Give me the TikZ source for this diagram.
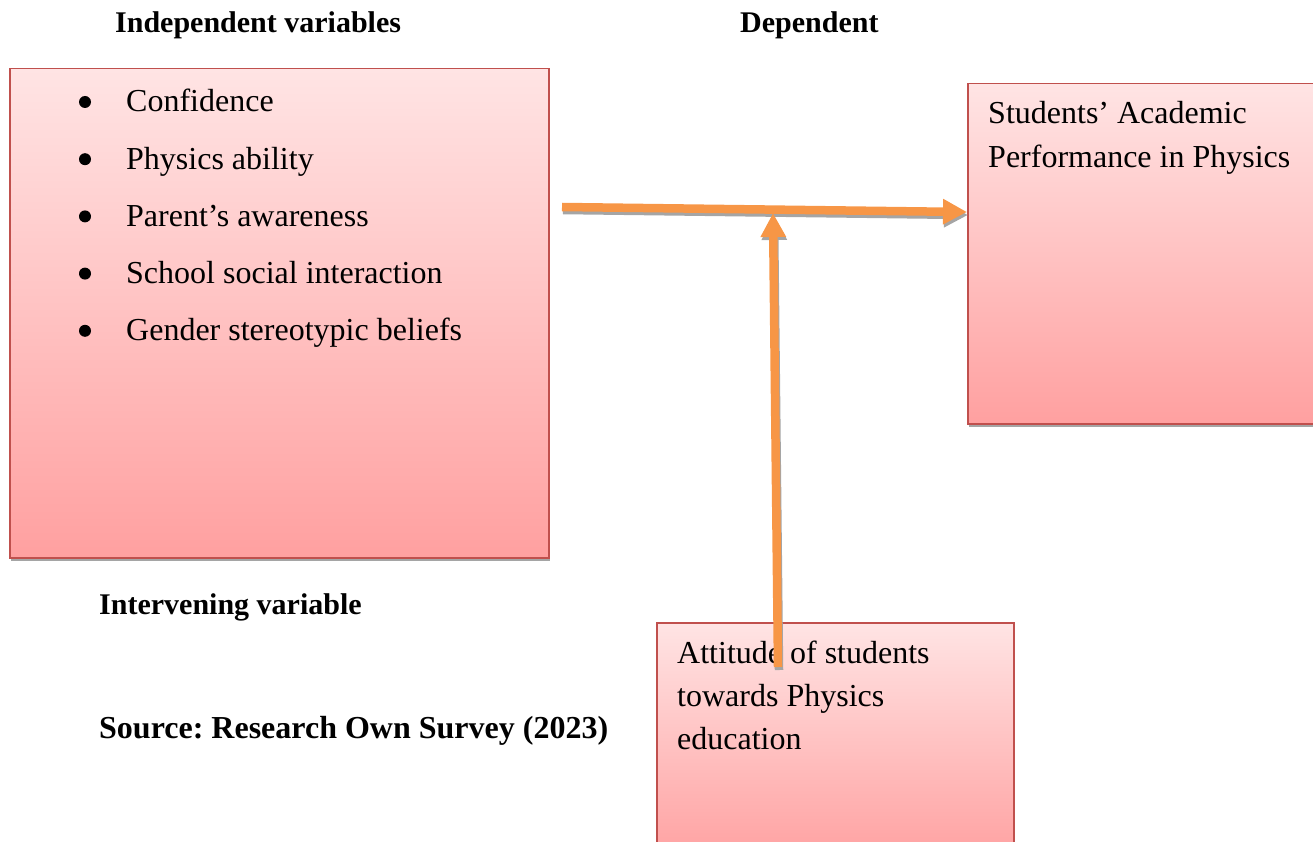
\documentclass[tikz,border=0pt]{standalone}
\usepackage{fontspec}
\setmainfont{Liberation Serif}
\usetikzlibrary{arrows.meta,shadows}
\frenchspacing

\definecolor{boxtop}{RGB}{255,228,228}
\definecolor{boxbot}{RGB}{255,160,160}
\definecolor{boxline}{RGB}{192,80,77}
\definecolor{flow}{RGB}{247,150,70}
\definecolor{flowshade}{RGB}{165,165,165}

\begin{document}
\begin{tikzpicture}[x=1pt,y=-1pt,
  varbox/.style={rectangle, draw=boxline, line width=1.5pt,
    top color=boxtop, bottom color=boxbot, anchor=north west, inner sep=0pt,
    drop shadow={shadow xshift=1pt, shadow yshift=-3.5pt, fill=flowshade, opacity=1}},
  heading/.style={font=\fontsize{30}{34}\selectfont\bfseries, anchor=base west, inner sep=0pt},
  source/.style={font=\fontsize{32}{38}\selectfont\bfseries, anchor=base west, inner sep=0pt},
  body/.style={font=\fontsize{32}{38}\selectfont, anchor=base west, inner sep=0pt},
  dot/.style={circle, fill=black, inner sep=0pt, minimum size=12pt},
  flowline/.style={draw=flow, line width=8.5pt, -{Triangle[length=24pt,width=24pt]}},
  flowshadow/.style={draw=flowshade, line width=8.5pt, -{Triangle[length=24pt,width=24pt]}}
]
\useasboundingbox (0,0) rectangle (1313,842);
\clip (0,0) rectangle (1313,842);

% column headings
\node[heading] (hind) at (115,33) {Independent variables};
\node[heading] (hdep) at (740,33) {Dependent};
\node[heading] (hint) at (99,614) {Intervening variable};
\node[source]  (src)  at (99,738) {Source: Research Own Survey (2023)};

% boxes
\node[varbox, minimum width=539pt, minimum height=489pt] (iv) at (9,68) {};
\node[varbox, minimum width=360pt, minimum height=340pt] (dv) at (967,83) {};
\node[varbox, minimum width=357pt, minimum height=240pt] (mv) at (656,622) {};

% independent variables list
\foreach \i/\t [count=\k] in {0/Confidence, 1/Physics ability, 2/Parent’s awareness,
    3/School social interaction, 4/Gender stereotypic beliefs} {
  \node[body] (item\k) at (126,112+57.2*\i) {\t};
  \node[dot] (dot\k) at (85,102+57.2*\i) {};
}

% dependent variable text
\node[body] (dvt1) at (988,124) {Students’ Academic};
\node[body] (dvt2) at (988,168) {Performance in Physics};

% intervening variable text
\node[body] (mvt1) at (677,663) {Attitude of students};
\node[body] (mvt2) at (677,706) {towards Physics};
\node[body] (mvt3) at (677,749) {education};

% connectors
\coordinate (hstart) at (562,207);
\coordinate (hend) at (dv.west |- 0,212);
\coordinate (vstart) at (778,667);
\coordinate (vend) at (773,213);

\draw[flowshadow] ([shift={(1,3)}]hstart) -- ([shift={(1,3)}]hend);
\draw[flowshadow] ([shift={(1,3)}]vstart) -- ([shift={(1,3)}]vend);
\draw[flowline] (hstart) -- (hend);
\draw[flowline] (vstart) -- (vend);
\end{tikzpicture}
\end{document}
